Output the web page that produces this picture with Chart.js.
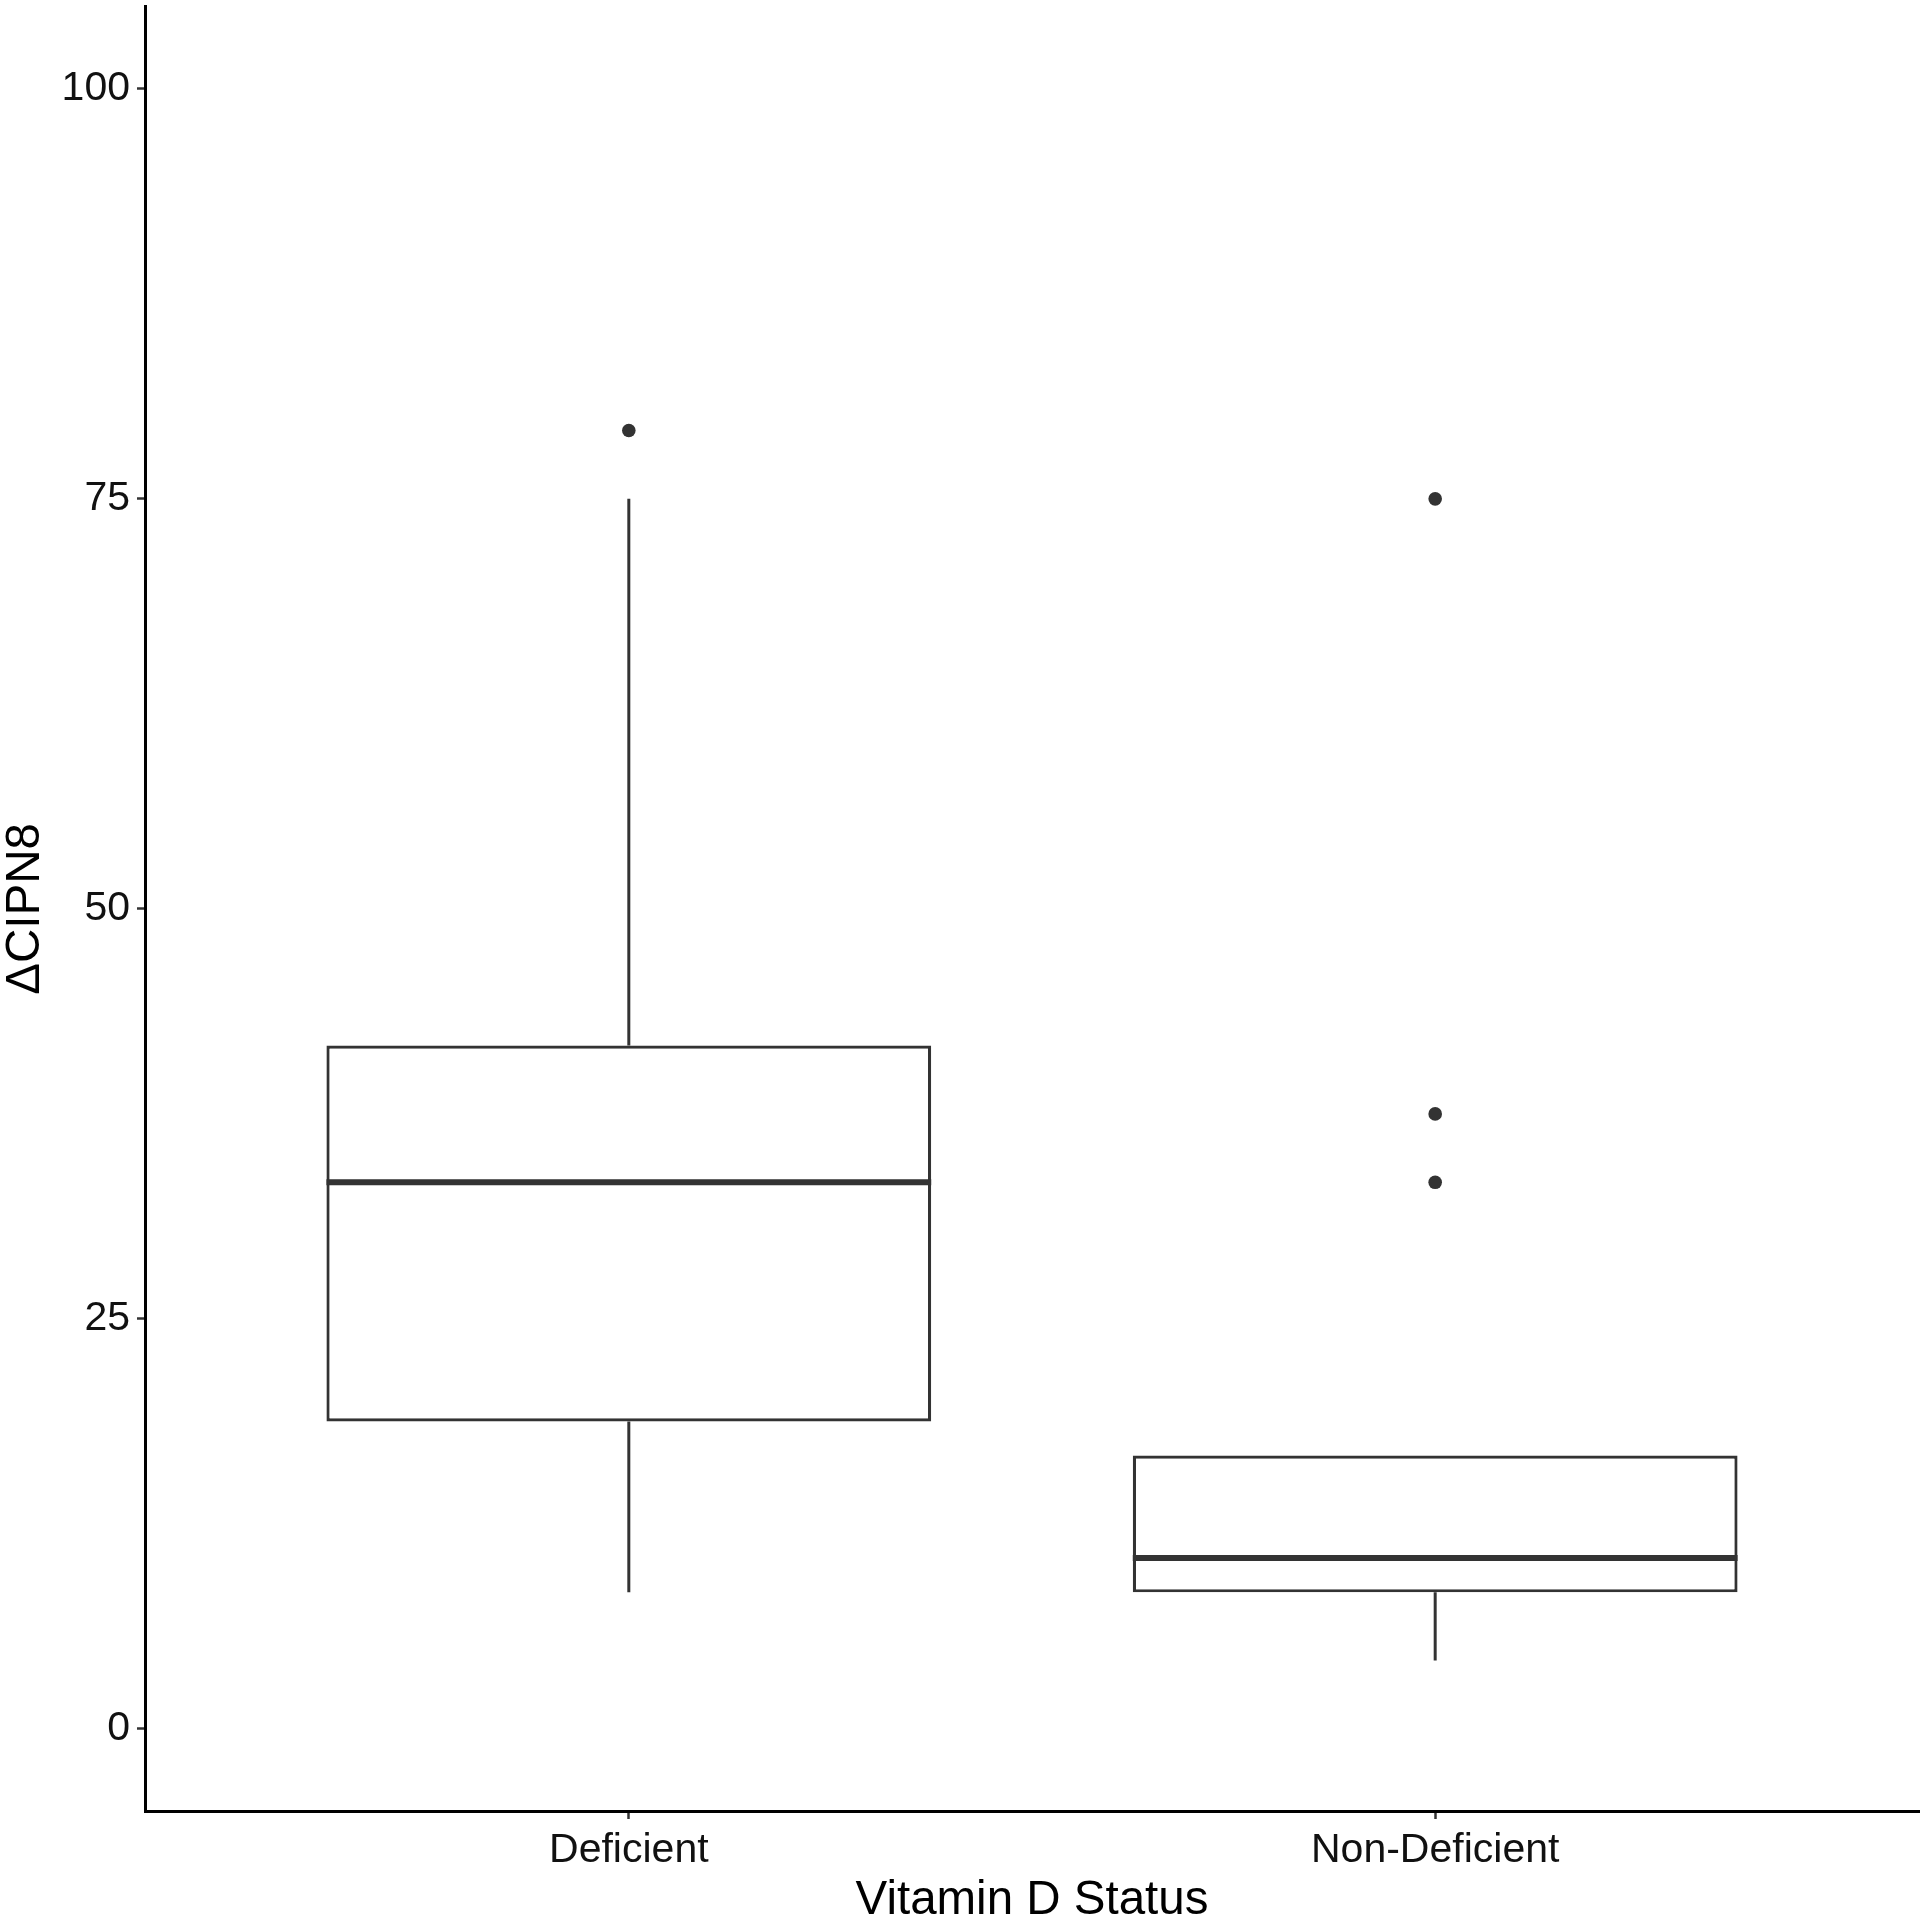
<!DOCTYPE html>
<html>
<head>
<meta charset="utf-8">
<script src="https://cdn.jsdelivr.net/npm/chart.js@4/dist/chart.umd.min.js"></script>
<style>
  body { margin: 0; background: #fff; }
  #wrap { width: 1927px; height: 1920px; }
</style>
</head>
<body>
<div id="wrap"><canvas id="boxChart" width="1927" height="1920"></canvas></div>
<script>
// --- data (CIPN8 change, steps of 100/24) ---
const CATEGORIES = ['Deficient', 'Non-Deficient'];
const LOWER = [8.33, 4.17];
const Q1 = [18.75, 8.33];
const MEDIAN = [33.33, 10.42];
const Q3 = [41.67, 16.67];
const UPPER = [75, 16.67];
const OUTLIERS = [[79.17], [75, 37.5, 33.33]];
const Y_TICKS = [0, 25, 50, 75, 100];

const BOX_WIDTH = 0.75;
const LINE_COLOR = '#333333';
const FONT = "'Liberation Sans', Arial, sans-serif";

// helper: list of segments -> points with null gaps between them
function segments(list) {
    const pts = [];
    list.forEach(s => {
        pts.push({ x: s[0], y: s[1] });
        pts.push({ x: s[2], y: s[3] });
        pts.push({ x: s[2], y: null });
    });
    return pts;
}

const whiskers = segments(CATEGORIES.flatMap((c, i) => [
    [i + 1, Q3[i], i + 1, UPPER[i]],
    [i + 1, Q1[i], i + 1, LOWER[i]]
]));
const medians = segments(CATEGORIES.map((c, i) =>
    [i + 1 - BOX_WIDTH / 2, MEDIAN[i], i + 1 + BOX_WIDTH / 2, MEDIAN[i]]));
const outlierPts = OUTLIERS.flatMap((arr, i) => arr.map(v => ({ x: i + 1, y: v })));

const ctx = document.getElementById('boxChart').getContext('2d');
const chart = new Chart(ctx, {
    type: 'bar',
    data: {
        datasets: [
            {
                type: 'line',
                data: medians,
                borderColor: LINE_COLOR,
                borderWidth: 6,
                borderCapStyle: 'butt',
                pointRadius: 0,
                spanGaps: false,
                order: 0
            },
            {
                type: 'scatter',
                data: outlierPts,
                backgroundColor: LINE_COLOR,
                borderWidth: 0,
                pointRadius: 6.8,
                order: 0
            },
            {
                type: 'line',
                data: whiskers,
                borderColor: LINE_COLOR,
                borderWidth: 3,
                borderCapStyle: 'butt',
                pointRadius: 0,
                spanGaps: false,
                order: 1
            },
            {
                type: 'bar',
                data: CATEGORIES.map((c, i) => ({ x: i + 1, y: [Q1[i], Q3[i]] })),
                backgroundColor: '#ffffff',
                borderColor: LINE_COLOR,
                borderWidth: 3.2,
                borderSkipped: false,
                barPercentage: BOX_WIDTH,
                categoryPercentage: 1,
                order: 2
            }
        ]
    },
    options: {
        responsive: false,
        devicePixelRatio: 1,
        animation: false,
        events: [],
        layout: { padding: { top: 6, right: 8, left: 0, bottom: 0 } },
        plugins: { legend: { display: false }, tooltip: { enabled: false } },
        scales: {
            x: {
                type: 'linear',
                min: 0.4,
                max: 2.6,
                offset: false,
                afterBuildTicks: s => { s.ticks = CATEGORIES.map((c, i) => ({ value: i + 1 })); },
                afterFit: s => { s.height = 109; s.paddingLeft = 0; s.paddingRight = 0; },
                border: { display: true, color: '#000', width: 3 },
                grid: { offset: false, drawOnChartArea: false, drawTicks: true, tickLength: 8, tickColor: LINE_COLOR, tickWidth: 2.5 },
                ticks: {
                    autoSkip: false, maxRotation: 0, padding: 7,
                    color: '#111', font: { family: FONT, size: 41 },
                    callback: v => CATEGORIES[v - 1]
                },
                title: {
                    display: true, text: 'Vitamin D Status', color: '#000',
                    font: { family: FONT, size: 47.5, lineHeight: 1 },
                    padding: { top: 0, bottom: -5 }
                }
            },
            y: {
                type: 'linear',
                min: -5,
                max: 105,
                afterBuildTicks: s => { s.ticks = Y_TICKS.map(v => ({ value: v })); },
                afterFit: s => { s.width = 145; s.paddingTop = 0; s.paddingBottom = 0; },
                border: { display: true, color: '#000', width: 3 },
                grid: { drawOnChartArea: false, drawTicks: true, tickLength: 8, tickColor: LINE_COLOR, tickWidth: 2.5 },
                ticks: { padding: 7, color: '#111', font: { family: FONT, size: 41 } },
                title: {
                    display: true, text: 'ΔCIPN8', color: '#000',
                    font: { family: FONT, size: 47.5, lineHeight: 1 },
                    padding: { top: 2, bottom: 0 }
                }
            }
        }
    }
});
</script>
</body>
</html>
